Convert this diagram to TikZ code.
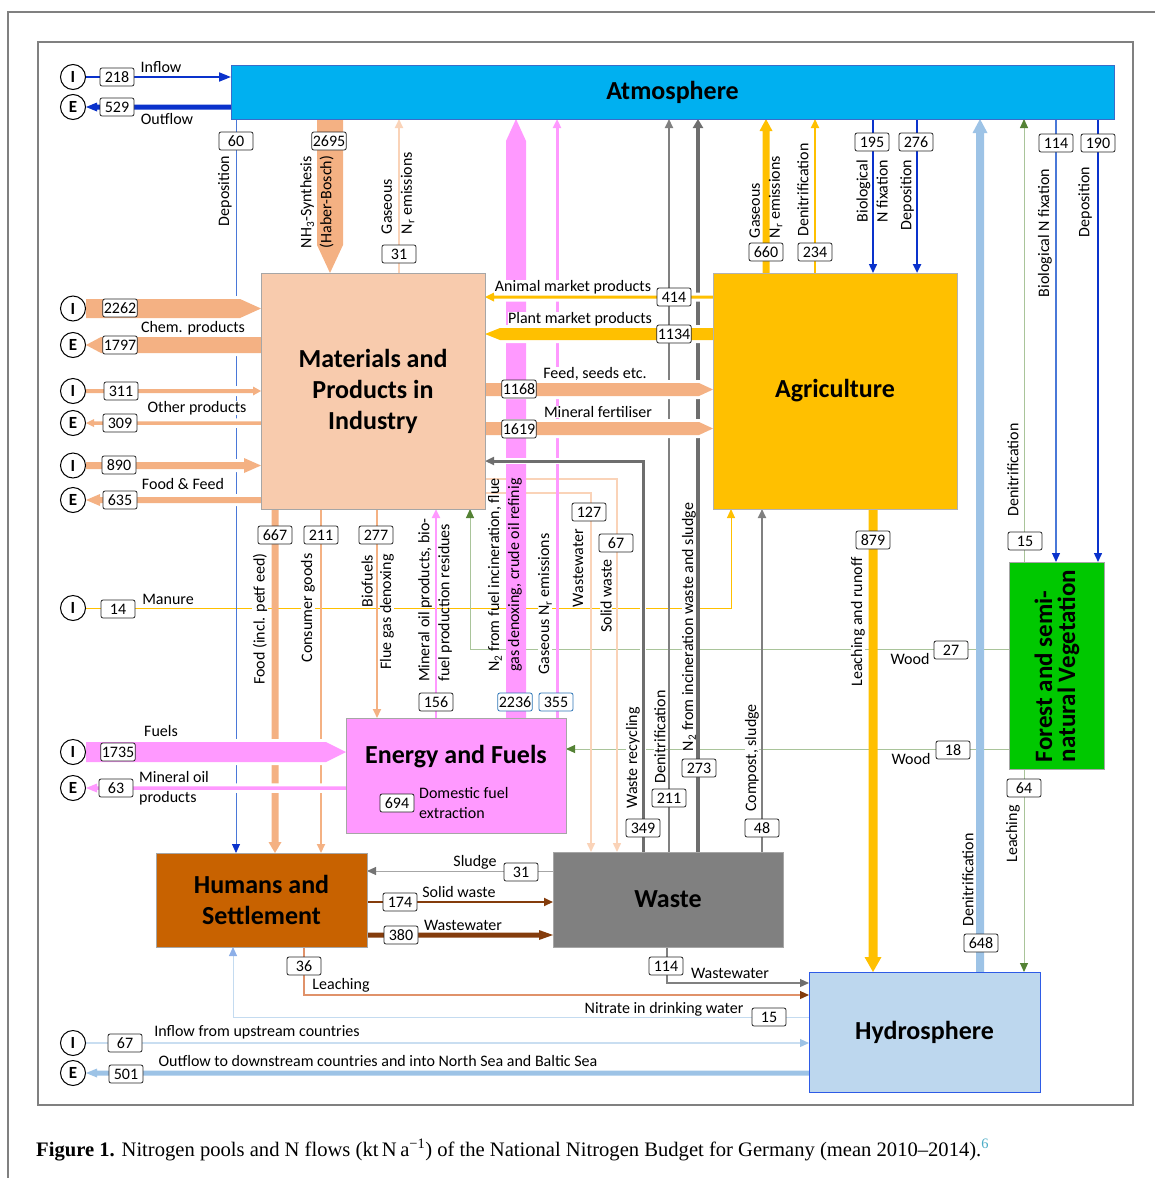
\documentclass[tikz,border=0pt]{standalone}
\usepackage{fontspec}
\setmainfont{Carlito}
\newfontfamily\capfont{Liberation Serif}
\usepackage{tikz}
\usetikzlibrary{arrows.meta,calc,backgrounds}
\definecolor{atmc}{HTML}{00B0F0}
\definecolor{atmb}{HTML}{3A6BC9}
\definecolor{matc}{HTML}{F8CBAD}
\definecolor{pea}{HTML}{F4B183}
\definecolor{lpea}{HTML}{FAD3B8}
\definecolor{agr}{HTML}{FFC000}
\definecolor{pnk}{HTML}{FF99FF}
\definecolor{humc}{HTML}{C86200}
\definecolor{brn}{HTML}{843C0C}
\definecolor{wstc}{HTML}{808080}
\definecolor{dgr}{HTML}{6E6E6E}
\definecolor{hydc}{HTML}{BDD7EE}
\definecolor{hydb}{HTML}{2E5BE6}
\definecolor{lblu}{HTML}{9DC3E6}
\definecolor{frsc}{HTML}{00C800}
\definecolor{grl}{HTML}{A9C49A}
\definecolor{grd}{HTML}{548235}
\definecolor{dblu}{HTML}{0A32CC}
\definecolor{mblu}{HTML}{4A78D8}
\definecolor{leach}{HTML}{E0926A}
\definecolor{bbox}{HTML}{2E75B6}
\definecolor{capb}{HTML}{4BACC6}
\newcommand\flow[6][]{%
  \path (#2) coordinate (fa) (#3) coordinate (fb);
  \path ($(fb)!#6pt!(fa)$) coordinate (fc);
  \fill[#1] ($(fa)!#4pt!90:(fb)$) -- ($(fc)!#4pt!90:(fb)$) -- ($(fc)!#5pt!90:(fb)$) -- (fb)
    -- ($(fc)!#5pt!-90:(fb)$) -- ($(fc)!#4pt!-90:(fb)$) -- ($(fa)!#4pt!-90:(fb)$) -- cycle;}

\begin{document}
\begin{tikzpicture}[x=1pt, y=-1pt, font=\fontsize{16}{20}\selectfont,
  pool/.style={draw=black!35, line width=1pt, inner sep=0pt, outer sep=0pt, align=center,
    font=\fontsize{26}{31}\selectfont\bfseries},
  val/.style={draw=black!85, fill=white, rounded corners=2pt, minimum width=34pt,
    minimum height=18pt, inner sep=1pt, line width=0.8pt},
  ie/.style={circle, draw, fill=white, line width=1pt, minimum size=25pt, inner sep=0pt,
    font=\fontsize{17}{20}\selectfont\bfseries},
  lab/.style={rotate=90, fill=white, inner sep=0.5pt},
  duo/.style={rotate=90, align=left, inner sep=0pt},
  txt/.style={fill=white, inner sep=0.5pt},
  arr/.style={-{Triangle[length=9pt,width=8pt,#1]}}, arr/.default={},
  halo/.style={preaction={draw=white,line width=6pt,-}}]
\useasboundingbox (0,0) rectangle (1155,1178);

\node[pool, fill=atmc, draw=atmb, minimum width=883, minimum height=54] (atm) at (672.5,92) {Atmosphere};
\node[pool, fill=matc, minimum width=224, minimum height=236] (mat) at (373,391) {Materials and\\Products in\\Industry};
\node[pool, fill=agr, draw=black!30, minimum width=244, minimum height=236] (agr) at (835,391) {Agriculture};
\node[pool, fill=pnk, minimum width=220, minimum height=115] (eng) at (456,775.5) {};
\node[pool, fill=humc, minimum width=211, minimum height=94] (hum) at (261.5,900) {Humans and\\Settlement};
\node[pool, fill=wstc, minimum width=230, minimum height=95] (wst) at (668,899.5) {Waste};
\node[pool, fill=hydc, draw=hydb, minimum width=231, minimum height=120] (hyd) at (924.5,1032) {Hydrosphere};
\node[pool, fill=frsc, minimum width=95, minimum height=207] (frs) at (1056.5,665.5) {};
\node[font=\fontsize{26}{31}\selectfont\bfseries] (engt) at (456,757) {Energy and Fuels};
\node[rotate=90, align=left, font=\fontsize{25}{23}\selectfont\bfseries] (frst) at (1057,666) {Forest and semi-\\natural Vegetation};
\node[anchor=west, align=left, inner sep=0pt] (dfe) at (419,803) {Domestic fuel\\extraction};

\foreach \n/\y/\t in {iatm/77/I, eatm/107/E, ichem/308.5/I, echem/345/E, ioth/391/I, eoth/423/E,
  ifood/465.5/I, efood/500/E, iman/608/I, ifuel/752/I, efuel/788/E, iup/1043/I, eout/1073/E}
  \node[ie] (\n) at (73,\y) {\t};

\begin{scope}[on background layer]
\draw[gray, line width=1.2pt] (8,1178) -- (8,12) -- (1155,12);
\draw[gray, line width=1.2pt] (38,42) rectangle (1133,1105);

\draw[agr, line width=1pt, arr] (iman) -| (731,0 |- agr.south);
\draw[grl, line width=1pt, arr={color=grd}] (frs.west |- 0,649) -| (470,0 |- mat.south);
\draw[grl, line width=1pt, arr={color=grd}] (frs.west |- 0,749) -- (eng.east |- 0,749);
\draw[lpea, line width=1.5pt, arr] (mat.east |- 0,493) -| (591,0 |- wst.north);
\draw[lpea, line width=1.5pt, arr] (mat.east |- 0,479) -| (617,0 |- wst.north);

\draw[mblu, line width=0.8pt, arr={color=dblu}] (236,0 |- atm.south) -- (236,0 |- hum.north);
\flow[pea]{330,0 |- atm.south}{330,0 |- mat.north}{13}{13}{28}
\draw[lpea, line width=2pt, arr] (399,0 |- mat.north) -- (399,0 |- atm.south);
\flow[pnk]{516,0 |- eng.north}{516,0 |- atm.south}{10}{10}{22}
\draw[pnk, line width=3pt, arr] (557,0 |- eng.north) -- (557,0 |- atm.south);
\draw[wstc, line width=2pt, arr] (669,0 |- wst.north) -- (669,0 |- atm.south);
\draw[dgr, line width=3.5pt, arr={width=10pt}] (698,0 |- wst.north) -- (698,0 |- atm.south);
\draw[wstc, line width=2pt, arr] (762,0 |- wst.north) -- (762,0 |- agr.south);
\flow[agr]{766,0 |- agr.north}{766,0 |- atm.south}{3.5}{6.5}{12}
\draw[agr, line width=2pt, arr] (815,0 |- agr.north) -- (815,0 |- atm.south);
\draw[dblu, line width=1.5pt, arr] (873,0 |- atm.south) -- (873,0 |- agr.north);
\draw[dblu, line width=2.5pt, arr] (917,0 |- atm.south) -- (917,0 |- agr.north);
\flow[lblu]{980,0 |- hyd.north}{980,0 |- atm.south}{4}{7.5}{14}
\draw[grl, line width=1pt, arr={color=grd}] (1024,0 |- frs.north) -- (1024,0 |- atm.south);
\draw[mblu, line width=1.2pt, arr={color=dblu}] (1056,0 |- atm.south) -- (1056,0 |- frs.north);
\draw[dblu, line width=1.5pt, arr] (1098,0 |- atm.south) -- (1098,0 |- frs.north);
\draw[grl, line width=1pt, arr={color=grd}] (1024,0 |- frs.south) -- (1024,0 |- hyd.north);
\flow[agr]{873,0 |- agr.south}{873,0 |- hyd.north}{4.5}{8.5}{15}
\flow[pea]{275,0 |- mat.south}{275,0 |- hum.north}{3.5}{6.5}{11}
\draw[pea, line width=2pt, arr] (321,0 |- mat.south) -- (321,0 |- hum.north);
\draw[pea, line width=2pt, arr] (377,0 |- mat.south) -- (377,0 |- eng.north);
\draw[pnk, line width=2.5pt, arr] (436,0 |- eng.north) -- (436,0 |- mat.south);

\flow[halo,agr]{agr.west |- 0,297}{mat.east |- 0,297}{1.5}{4.5}{9}
\flow[halo,agr]{agr.west |- 0,334}{mat.east |- 0,334}{6}{6}{15}
\flow[halo,pea]{mat.east |- 0,389.5}{agr.west |- 0,389.5}{6.5}{6.5}{14}
\flow[halo,pea]{mat.east |- 0,428.5}{agr.west |- 0,428.5}{6.5}{6.5}{14}
\draw[halo, dgr, line width=3pt, arr] (643,0 |- wst.north) |- (mat.east |- 0,461);

\draw[halo, dblu, line width=2pt, arr={length=12pt,width=9pt}] (iatm) -- (iatm -| atm.west);
\flow[halo,dblu]{atm.west |- eatm}{eatm.east}{2.5}{4.5}{11}
\flow[halo,pea]{ichem.east}{mat.west |- ichem}{9.5}{9.5}{21}
\flow[halo,pea]{mat.west |- echem}{echem.east}{8}{8}{15}
\flow[halo,pea]{ioth.east}{mat.west |- ioth}{2}{4.5}{8}
\flow[halo,pea]{mat.west |- eoth}{eoth.east}{1.75}{4}{8}
\flow[halo,pea]{ifood.east}{mat.west |- ifood}{3.5}{7.5}{17}
\flow[halo,pea]{mat.west |- efood}{efood.east}{3}{6}{14}
\flow[halo,pnk]{ifuel.east}{eng.west |- ifuel}{10}{10}{20}
\flow[halo,pnk]{eng.west |- efuel}{efuel.east}{1.75}{4.5}{11}

\draw[black!35, line width=1pt, arr={color=black!55}] (wst.west |- 0,871) -- (hum.east |- 0,871);
\draw[brn, line width=1.8pt, arr] (hum.east |- 0,902) -- (wst.west |- 0,902);
\flow[brn]{hum.east |- 0,935}{wst.west |- 0,935}{2.5}{5}{14}
\draw[wstc, line width=1.2pt, arr={color=dgr}] (667,0 |- wst.south) |- (hyd.west |- 0,983);
\draw[leach, line width=1.2pt, arr={color=brn}] (304,0 |- hum.south) |- (hyd.west |- 0,995);
\draw[lblu!60, line width=1pt, arr={color=lblu!90!blue}] (hyd.west |- 0,1017) -| (233,0 |- hum.south);
\draw[lblu!55, line width=1.2pt, arr={color=lblu}] (iup) -- (iup -| hyd.west);
\flow[lblu]{hyd.west |- eout}{eout.east}{2.5}{4.5}{11}
\end{scope}

\foreach \x/\y/\t [count=\k] in {161/67/Inflow, 167/119/Outflow, 193/328/Chem. products,
  197/408/Other products, 183/484/Food \& Feed, 168/599/Manure, 161/731/Fuels,
  573/287/Animal market products, 580/319/Plant market products, 595/374/{Feed, seeds etc.},
  598/412/Mineral fertiliser, 475/862/Sludge, 459/892/Solid waste, 463/925/Wastewater,
  730/973/Wastewater, 341/985/Leaching, 664/1009/Nitrate in drinking water,
  257/1032/Inflow from upstream countries, 910/659/Wood, 911/759/Wood,
  378/1061/Outflow to downstream countries and into North Sea and Baltic Sea}
  \node[txt] (t\k) at (\x,\y) {\t};
\node[anchor=west, align=left, inner sep=0pt] (mop) at (139,788) {Mineral oil\\products};

\foreach \x/\y/\t [count=\k] in {225/191/Deposition, 803/190/Denitrification, 907/195/Deposition,
  1045/233/Biological N fixation, 1085/202/Deposition, 1013/470/Denitrification,
  1013/834/Leaching, 968/880/Denitrification, 858/622/Leaching and runoff,
  752/758/{Compost, sludge}, 689/627/N\textsubscript{2} from incineration waste and sludge,
  660/737/Denitrification, 633/758/Waste recycling, 606/596/Solid waste, 578/568/Wastewater,
  545/604/Gaseous N\textsubscript{r} emissions, 260/619/Food (incl. petf eed),
  308/608/Consumer goods, 367/581/Biofuels, 387/612/Flue gas denoxing}
  \node[lab] (r\k) at (\x,\y) {\t};
\node[duo] (nh) at (317,202) {NH\textsubscript{3}-Synthesis\\(Haber-Bosch)};
\node[duo] (gm) at (398,193) {Gaseous\\N\textsubscript{r} emissions};
\node[duo] (ga) at (766,197) {Gaseous\\N\textsubscript{r} emissions};
\node[duo] (bn) at (872,191) {Biological\\N fixation};
\node[duo] (mo) at (435,600) {Mineral oil products, bio-\\fuel production residues};
\node[duo] (nf) at (505,575) {N\textsubscript{2} from fuel incineration, flue\\gas denoxing, crude oil refinig};

\foreach \x/\y/\v [count=\k] in {117/77/218, 117/107/529, 236/141/60, 329/141/2695, 399/254/31,
  766/252/660, 815/252/234, 872/142/195, 916/142/276, 1056/143/114, 1098/143/190,
  120/308/2262, 120/345/1797, 121/391/311, 120/423/309, 119/465/890, 120/500/635,
  674/297/414, 674/334/1134, 519/389/1168, 519/429/1619, 275/535/667, 321/535/211,
  376/535/277, 589/512/127, 616/543/67, 873/540/879, 118/609/14, 951/650/27, 953/750/18,
  1025/541/15, 1024/788/64, 436/702/156, 118/752/1735, 116/788/63, 397/803/694,
  643/828/349, 669/798/211, 699/768/273, 762/828/48, 521/872/31, 400/902/174, 401/935/380,
  304/966/36, 666/966/114, 769/1017/15, 981/943/648, 125/1043/67, 126/1074/501}
  \node[val] (v\k) at (\x,\y) {\v};
\node[val, draw=bbox] (v2236) at (515,702) {2236};
\node[val, draw=bbox] (v355) at (556,702) {355};

\node[anchor=west, inner sep=0pt, font=\capfont\fontsize{20.6}{24}\selectfont] (cap) at (36,1150)
  {\textbf{Figure 1.} Nitrogen pools and N flows (kt\,N\,a\textsuperscript{−1}) of the National Nitrogen Budget for Germany (mean 2010–2014).\textsuperscript{\color{capb}6}};
\end{tikzpicture}
\end{document}
